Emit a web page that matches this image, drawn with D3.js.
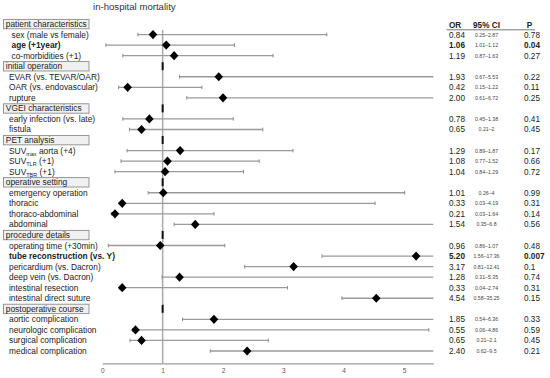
<!DOCTYPE html>
<html>
<head>
<meta charset="utf-8">
<script src="https://cdn.jsdelivr.net/npm/d3@7"></script>
<style>
  body { margin: 0; background: #fff; }
  svg { font-family: "Liberation Sans", Arial, sans-serif; }
</style>
</head>
<body>
<div id="chart"></div>
<script>
// rows of the forest plot, section headers mixed in
var labels = [
  "patient characteristics", "sex (male vs female)", "age (+1year)", "co-morbidities (+1)",
  "initial operation", "EVAR (vs. TEVAR/OAR)", "OAR (vs. endovascular)", "rupture",
  "VGEI characteristics", "early infection (vs. late)", "fistula",
  "PET analysis", "SUV|max| aorta (+4)", "SUV|TLR| (+1)", "SUV|TBR| (+1)",
  "operative setting", "emergency operation", "thoracic", "thoraco-abdominal", "abdominal",
  "procedure details", "operating time (+30min)", "tube reconstruction (vs. Y)",
  "pericardium (vs. Dacron)", "deep vein (vs. Dacron)", "intestinal resection", "intestinal direct suture",
  "postoperative course", "aortic complication", "neurologic complication",
  "surgical complication", "medical complication"
];
var headers = ["patient characteristics", "initial operation", "VGEI characteristics",
  "PET analysis", "operative setting", "procedure details", "postoperative course"];
var boldRows = ["age (+1year)", "tube reconstruction (vs. Y)"];

// one entry per non-header row, as drawn
var orValues = [0.84, 1.06, 1.19, 1.93, 0.42, 2.00, 0.78, 0.65, 1.29, 1.08, 1.04,
  1.01, 0.33, 0.21, 1.54, 0.96, 5.20, 3.17, 1.28, 0.33, 4.54, 1.85, 0.55, 0.65, 2.40];
var lowValues = [0.59, 0.06, 0.34, 1.28, 0.27, 1.40, 0.34, 0.45, 0.41, 0.31, 0.21,
  0.76, 0.28, 0.15, 1.19, 0.10, 3.64, 2.36, 0.99, 0.28, 3.97, 1.33, 0.50, 0.46, 1.79];
var highValues = [3.72, 2.19, 2.83, 6, 1.65, 6, 2.17, 2.66, 3.16, 2.60, 2.34,
  5.01, 4.52, 1.85, 6, 2.03, 6, 6, 6, 3.07, 6, 6, 5.41, 2.75, 6];

// table on the right
var orText = ["0.84", "1.06", "1.19", "1.93", "0.42", "2.00", "0.78", "0.65", "1.29", "1.08", "1.04",
  "1.01", "0.33", "0.21", "1.54", "0.96", "5.20", "3.17", "1.28", "0.33", "4.54", "1.85", "0.55", "0.65", "2.40"];
var ciText = ["0.25–2.87", "1.01–1.12", "0.87–1.63", "0.67–5.53", "0.15–1.22", "0.61–6.72",
  "0.45–1.38", "0.21–2", "0.89–1.87", "0.77–1.52", "0.84–1.29", "0.26–4", "0.03–4.19",
  "0.03–1.64", "0.35–6.8", "0.86–1.07", "1.56–17.36", "0.81–12.41", "0.31–5.35",
  "0.04–2.74", "0.58–35.25", "0.54–6.36", "0.06–4.86", "0.21–2.1", "0.62–9.5"];
var pText = ["0.78", "0.04", "0.27", "0.22", "0.11", "0.25", "0.41", "0.45", "0.17", "0.66", "0.72",
  "0.99", "0.31", "0.14", "0.56", "0.48", "0.007", "0.1", "0.74", "0.31", "0.15", "0.33", "0.59", "0.45", "0.21"];

var xTicks = [0, 1, 2, 3, 4, 5];

var width = 550, height = 378;

var svg = d3.select("#chart").append("svg")
  .attr("width", width)
  .attr("height", height);

var x = d3.scaleLinear().domain([0, 5.485]).range([102.3, 433.3]).clamp(true);
var y = d3.scalePoint().domain(d3.range(labels.length)).range([24, 351]);

// build the item rows
var items = [];
var k = 0;
labels.forEach(function(l, i) {
  if (headers.indexOf(l) < 0) {
    items.push({label: l, row: i, or: orValues[k], lo: lowValues[k], hi: highValues[k],
      orT: orText[k], ciT: ciText[k], pT: pText[k], bold: boldRows.indexOf(l) >= 0});
    k++;
  }
});
var headerRows = labels.map(function(l, i) { return i; })
  .filter(function(i) { return headers.indexOf(labels[i]) >= 0; });

// title
svg.append("text")
  .attr("x", 93).attr("y", 9.5)
  .style("font-size", "9.6px").style("fill", "#333")
  .text("in-hospital mortality");

// x axis
var axisY = 363.3;
var ax = svg.append("g")
  .attr("transform", "translate(0," + axisY + ")")
  .call(d3.axisBottom(x).tickValues(xTicks).tickSize(0).tickPadding(5).tickFormat(d3.format("d")));
ax.select(".domain").attr("stroke", "#999").attr("stroke-width", 1.3);
ax.selectAll("text").style("font-size", "6.5px").style("fill", "#555")
  .style("font-family", "Liberation Sans, Arial, sans-serif");

// reference line at OR = 1
svg.append("line")
  .attr("x1", x(1)).attr("x2", x(1))
  .attr("y1", 30).attr("y2", axisY)
  .attr("stroke", "#aaa").attr("stroke-width", 1.5);

svg.selectAll(".hmark")
  .data(headerRows.slice(1))
  .enter().append("line")
  .attr("x1", x(1)).attr("x2", x(1))
  .attr("y1", function(d) { return y(d) - 4; })
  .attr("y2", function(d) { return y(d) + 4; })
  .attr("stroke", "#111").attr("stroke-width", 2);

// whiskers
svg.selectAll(".ci")
  .data(items)
  .enter().append("line")
  .attr("x1", function(d) { return x(d.lo); })
  .attr("x2", function(d) { return x(d.hi); })
  .attr("y1", function(d) { return y(d.row); })
  .attr("y2", function(d) { return y(d.row); })
  .attr("stroke", "#9a9a9a").attr("stroke-width", 1.3);

var caps = [];
items.forEach(function(d) {
  caps.push({v: d.lo, row: d.row});
  if (d.hi < x.domain()[1]) caps.push({v: d.hi, row: d.row});
});
svg.selectAll(".cap")
  .data(caps)
  .enter().append("line")
  .attr("x1", function(d) { return x(d.v); })
  .attr("x2", function(d) { return x(d.v); })
  .attr("y1", function(d) { return y(d.row) - 1.8; })
  .attr("y2", function(d) { return y(d.row) + 1.8; })
  .attr("stroke", "#8a8a8a").attr("stroke-width", 1);

// diamonds
svg.selectAll(".pt")
  .data(items)
  .enter().append("path")
  .attr("d", function(d) {
    var cx = x(d.or), cy = y(d.row);
    return "M" + (cx - 4.3) + "," + cy + "L" + cx + "," + (cy - 4.6) +
      "L" + (cx + 4.3) + "," + cy + "L" + cx + "," + (cy + 4.6) + "Z";
  })
  .attr("fill", "#000");

// section header boxes
var hg = svg.selectAll(".hdr")
  .data(headerRows)
  .enter().append("g");
hg.append("rect")
  .attr("x", 3.5).attr("width", 85.5)
  .attr("y", function(d) { return y(d) - 4.6; })
  .attr("height", 9.4)
  .attr("fill", "#f0f0f0").attr("stroke", "#8c8c8c").attr("stroke-width", 0.9);
hg.append("text")
  .attr("x", 5.8)
  .attr("y", function(d) { return y(d) + 3; })
  .style("font-size", "8.4px").style("fill", "#222")
  .text(function(d) { return labels[d]; });

// row labels (with subscripts for SUV)
var lt = svg.selectAll(".lbl")
  .data(items)
  .enter().append("text")
  .attr("x", function(d) { return d.row < 4 ? 11.5 : 9; })
  .attr("y", function(d) { return y(d.row) + 3; })
  .style("font-size", "8.4px").style("fill", "#222")
  .style("font-weight", function(d) { return d.bold ? "bold" : null; });
lt.each(function(d) {
  var t = d3.select(this);
  var parts = d.label.split("|");
  parts.forEach(function(p, i) {
    var ts = t.append("tspan").text(p);
    if (i == 1) ts.attr("dy", 2).style("font-size", "5.5px");
    if (i == 2) ts.attr("dy", -2);
  });
});

// table
svg.append("text").attr("x", 449).attr("y", 28)
  .style("font-size", "8.2px").style("font-weight", "bold").style("fill", "#222").text("OR");
svg.append("text").attr("x", 486.5).attr("y", 28).attr("text-anchor", "middle")
  .style("font-size", "8.2px").style("font-weight", "bold").style("fill", "#222").text("95% CI");
svg.append("text").attr("x", 529.5).attr("y", 28).attr("text-anchor", "middle")
  .style("font-size", "8.2px").style("font-weight", "bold").style("fill", "#222").text("P");
svg.append("line")
  .attr("x1", 446.5).attr("x2", 535).attr("y1", 29.8).attr("y2", 29.8)
  .attr("stroke", "#555").attr("stroke-width", 0.8);

var tr = svg.selectAll(".trow")
  .data(items)
  .enter().append("g");
tr.append("text")
  .attr("x", 449).attr("y", function(d) { return y(d.row) + 3; })
  .style("font-size", "8.2px").style("fill", "#222")
  .style("font-weight", function(d) { return d.bold ? "bold" : null; })
  .text(function(d) { return d.orT; });
tr.append("text")
  .attr("x", 486.5).attr("y", function(d) { return y(d.row) + 2; })
  .attr("text-anchor", "middle")
  .style("font-size", "5.2px").style("fill", "#444")
  .text(function(d) { return d.ciT; });
tr.append("text")
  .attr("x", 524).attr("y", function(d) { return y(d.row) + 3; })
  .style("font-size", "8.2px").style("fill", "#222")
  .style("font-weight", function(d) { return d.bold ? "bold" : null; })
  .text(function(d) { return d.pT; });
</script>
</body>
</html>
